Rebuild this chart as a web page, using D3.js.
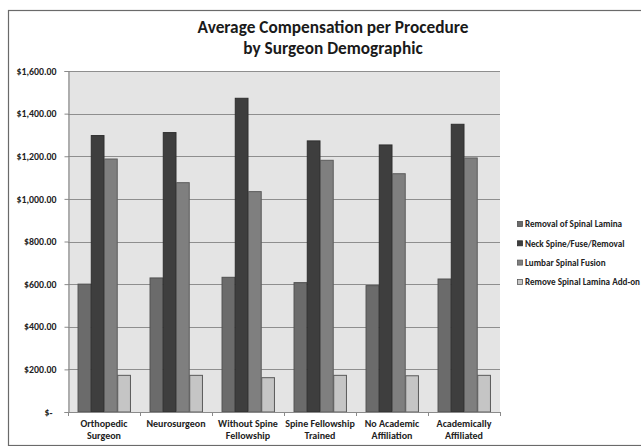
<!DOCTYPE html>
<html>
<head>
<meta charset="utf-8">
<script src="https://cdn.jsdelivr.net/npm/d3@7"></script>
<style>
  html, body { margin: 0; padding: 0; background: #fff; }
  svg { display: block; }
  text { font-family: Carlito, Lato, "Open Sans", sans-serif; font-weight: bold; fill: #222; }
</style>
</head>
<body>
<svg id="chart" width="641" height="447"></svg>
<script>
// Surgeon demographic groups (two-line labels)
const categories = [
  ["Orthopedic", "Surgeon"],
  ["Neurosurgeon"],
  ["Without Spine", "Fellowship"],
  ["Spine Fellowship", "Trained"],
  ["No Academic", "Affiliation"],
  ["Academically", "Affiliated"]
];
const seriesNames = [
  "Removal of Spinal Lamina",
  "Neck Spine/Fuse/Removal",
  "Lumbar Spinal Fusion",
  "Remove Spinal Lamina Add-on"
];
// Average compensation per procedure, one array per procedure
const removalLamina = [600, 629, 632, 607, 593, 624];
const neckSpine     = [1297, 1311, 1472, 1272, 1253, 1350];
const lumbarFusion  = [1187, 1076, 1034, 1181, 1118, 1192];
const laminaAddOn   = [172, 172, 161, 172, 170, 172];
const yTicks = [0, 200, 400, 600, 800, 1000, 1200, 1400, 1600];

const seriesValues = [removalLamina, neckSpine, lumbarFusion, laminaAddOn];
const fills   = ["#6b6b6b", "#3e3e3e", "#7f7f7f", "#c5c5c5"];
const strokes = ["#505050", "#2e2e2e", "#5c5c5c", "#5a5a5a"];

const svg = d3.select("#chart");
const plot = { left: 68, right: 500, top: 71, bottom: 412 };

// outer chart frame (runs past the right and bottom edges)
svg.append("rect")
  .attr("x", 8.5).attr("y", 10.5)
  .attr("width", 700).attr("height", 435)
  .attr("fill", "#fff").attr("stroke", "#6a6a6a").attr("stroke-width", 1.2);
svg.append("rect").attr("x", 0).attr("y", 446).attr("width", 641).attr("height", 2).attr("fill", "#fff");

// title
const title = svg.append("text")
  .attr("text-anchor", "middle")
  .style("font-size", "17.3px").style("fill", "#1a1a1a");
title.append("tspan").attr("x", 333).attr("y", 33).text("Average Compensation per Procedure");
title.append("tspan").attr("x", 333).attr("y", 54).text("by Surgeon Demographic");

const x0 = d3.scaleBand()
  .domain(d3.range(categories.length))
  .range([plot.left, plot.right])
  .paddingInner(0.265).paddingOuter(0.1325);
const x1 = d3.scaleBand()
  .domain(d3.range(seriesNames.length))
  .range([0, x0.bandwidth()]);
const y = d3.scaleLinear().domain([0, 1600]).range([plot.bottom, plot.top]);

// plot background
svg.append("rect")
  .attr("x", plot.left).attr("y", plot.top)
  .attr("width", plot.right - plot.left).attr("height", plot.bottom - plot.top)
  .attr("fill", "#e4e4e4");

// horizontal gridlines
svg.append("g").selectAll("line")
  .data(yTicks.filter(d => d > 0))
  .join("line")
  .attr("x1", plot.left).attr("x2", plot.right)
  .attr("y1", d => Math.round(y(d)) + 0.5).attr("y2", d => Math.round(y(d)) + 0.5)
  .attr("stroke", "#8e8e8e").attr("stroke-width", 1.2);

// y axis
const fmt = d => d === 0 ? "$-" : "$" + d3.format(",.2f")(d);
const yAxis = svg.append("g")
  .attr("transform", `translate(${plot.left + 0.5},0)`)
  .call(d3.axisLeft(y).tickValues(yTicks).tickFormat(fmt).tickSize(4).tickPadding(8));
yAxis.select(".domain").attr("stroke", "#8a8a8a").attr("stroke-width", 1.2);
yAxis.selectAll(".tick line").attr("stroke", "#8a8a8a");
yAxis.selectAll(".tick text").style("font-size", "9.8px").style("font-family", null).attr("fill", "#222");
yAxis.selectAll(".tick").filter(d => d === 0).select("text").attr("x", -16);

// bars
const groups = svg.append("g").selectAll("g")
  .data(categories.map((c, i) => i))
  .join("g")
  .attr("transform", i => `translate(${x0(i)},0)`);
groups.selectAll("rect")
  .data(i => seriesValues.map((vals, s) => ({ s, v: vals[i] })))
  .join("rect")
  .attr("x", d => x1(d.s) + 0.5)
  .attr("y", d => y(d.v))
  .attr("width", x1.bandwidth() - 0.5)
  .attr("height", d => y(0) - y(d.v))
  .attr("fill", d => fills[d.s])
  .attr("stroke", d => strokes[d.s])
  .attr("stroke-width", 1);

// x axis line and category ticks
const step = (plot.right - plot.left) / categories.length;
svg.append("line")
  .attr("x1", plot.left).attr("x2", plot.right)
  .attr("y1", plot.bottom + 0.5).attr("y2", plot.bottom + 0.5)
  .attr("stroke", "#8a8a8a").attr("stroke-width", 1.2);
svg.append("g").selectAll("line")
  .data(d3.range(categories.length + 1))
  .join("line")
  .attr("x1", i => plot.left + i * step + 0.5).attr("x2", i => plot.left + i * step + 0.5)
  .attr("y1", plot.bottom).attr("y2", plot.bottom + 4)
  .attr("stroke", "#8a8a8a");

// category labels
svg.append("g").selectAll("text")
  .data(categories)
  .join("text")
  .attr("text-anchor", "middle")
  .style("font-size", "10px")
  .each(function (lines, i) {
    const cx = x0(i) + x0.bandwidth() / 2;
    d3.select(this).selectAll("tspan")
      .data(lines)
      .join("tspan")
      .attr("x", cx)
      .attr("y", (d, k) => 427 + k * 11.5)
      .text(d => d);
  });

// legend
const legend = svg.append("g").selectAll("g")
  .data(seriesNames)
  .join("g")
  .attr("transform", (d, i) => `translate(517,${224 + i * 19.3})`);
legend.append("rect")
  .attr("x", 0.5).attr("y", -2.5).attr("width", 5).attr("height", 5)
  .attr("fill", (d, i) => fills[i]).attr("stroke", (d, i) => strokes[i]).attr("stroke-width", 0.8);
legend.append("text")
  .attr("x", 8).attr("y", 3.2)
  .style("font-size", "9.1px")
  .text(d => d);
</script>
</body>
</html>
